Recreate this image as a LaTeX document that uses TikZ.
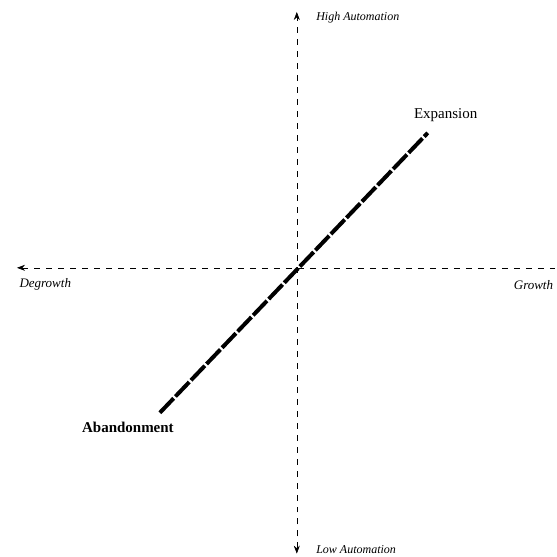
\documentclass[tikz,border=0pt]{standalone}
\usepackage{fontspec}
\setmainfont{Liberation Serif}
\usetikzlibrary{arrows.meta}

\begin{document}
\begin{tikzpicture}[x=1pt,y=1pt]
\path (0,0) rectangle (555,557);
\coordinate (top) at (297,545);
\coordinate (bot) at (297,3);
\coordinate (lft) at (17,289);
\coordinate (rgt) at (555,289);
\coordinate (aband) at (160,144);
\coordinate (expan) at (428,424);
\draw[line width=0.6pt,dash pattern=on 6pt off 6pt,{Stealth[length=8pt,width=6pt]}-{Stealth[length=8pt,width=6pt]}] (bot) -- (top);
\draw[line width=0.6pt,dash pattern=on 6pt off 6pt,{Stealth[length=8pt,width=6pt]}-] (lft) -- (rgt);
\draw[line width=4pt,dash pattern=on 20pt off 2.5pt] (aband) -- (expan);
\node[anchor=west,font=\fontsize{12}{14}\selectfont\itshape] (high) at (313,539) {High Automation};
\node[anchor=west,font=\fontsize{12}{14}\selectfont\itshape] (low) at (313,7) {Low Automation};
\node[anchor=west,font=\fontsize{13}{15}\selectfont\itshape] (degr) at (16,272) {Degrowth};
\node[anchor=east,font=\fontsize{13}{15}\selectfont\itshape] (grow) at (557,272) {Growth};
\node[font=\fontsize{15}{17}\selectfont] (expn) at (446,442) {Expansion};
\node[font=\fontsize{15}{17}\selectfont\bfseries] (abnd) at (128,129) {Abandonment};
\end{tikzpicture}
\end{document}
